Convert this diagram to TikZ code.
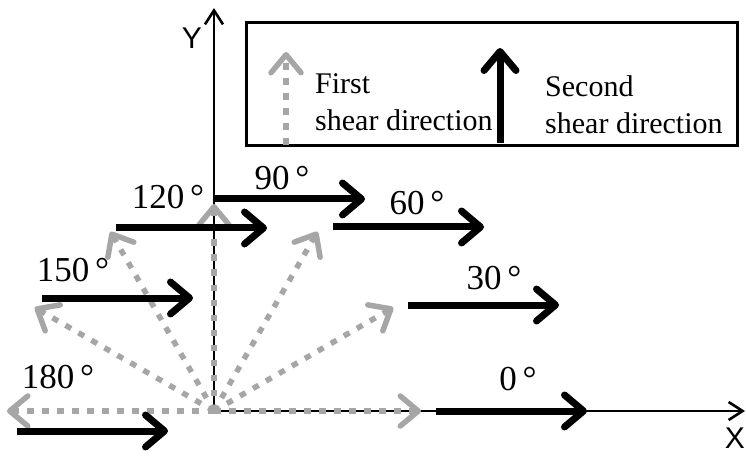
\documentclass[tikz,border=0pt]{standalone}
\usepackage{fontspec}
\setmainfont{Liberation Serif}
\newfontfamily\axisfont{Liberation Sans}
\usetikzlibrary{arrows.meta}
\definecolor{firstgray}{RGB}{166,166,166}

\begin{document}
\begin{tikzpicture}[x=1pt, y=1pt,
  axisline/.style={line width=2.6pt, -{Straight Barb[length=14pt, width=18pt]}},
  firstarrow/.style={firstgray, line width=5.5pt, dash pattern=on 6.5pt off 8.5pt,
    -{Straight Barb[length=18pt, width=30pt, round]}},
  secondarrow/.style={line width=7pt, -{Straight Barb[length=19pt, width=32pt, round]}},
  anglabel/.style={font=\fontsize{35}{40}\selectfont, inner sep=0pt},
  legtext/.style={font=\fontsize{30}{37}\selectfont, align=left, inner sep=0pt},
]
  \useasboundingbox (-214,-44) rectangle (532,411);

  % Axes
  \coordinate (O) at (0,0);
  \coordinate (xend) at (531,0);
  \coordinate (yend) at (0,403);
  \draw[axisline] (O) -- (xend);
  \draw[axisline] (O) -- (yend);
  \node[font=\axisfont\fontsize{30}{36}\selectfont, inner sep=0pt] (ylab) at (-22,373) {Y};
  \node[font=\axisfont\fontsize{30}{36}\selectfont, inner sep=0pt, anchor=east] (xlab) at (531,-27) {X};

  % Legend
  \node[draw, line width=2.6pt, minimum width=491pt, minimum height=123pt,
        inner sep=0pt, anchor=south west] (legbox) at (31,264) {};
  \coordinate (lf0) at (72,266);
  \coordinate (lf1) at (72,359);
  \coordinate (ls0) at (286,268);
  \coordinate (ls1) at (286,363);
  \draw[firstarrow] (lf0) -- (lf1);
  \draw[secondarrow] (ls0) -- (ls1);
  \node[legtext, anchor=north west] (firsttxt) at (101,338) {First\\shear direction};
  \node[legtext, anchor=north west] (secondtxt) at (331,336) {Second\\shear direction};

  % First shear direction (dotted, from origin)
  \foreach \a in {0,30,...,180} {
    \coordinate (f\a) at (\a:207);
    \draw[firstarrow] (O) -- (f\a);
  }

  % Second shear direction (solid, towards +X)
  \foreach \a/\sx/\sy in {0/222/0, 30/194/106, 60/119/184, 90/0/212,
                          120/-98/183, 150/-172/113, 180/-197/-20} {
    \coordinate (s\a) at (\sx,\sy);
    \coordinate (e\a) at (\sx+151,\sy);
    \draw[secondarrow] (s\a) -- (e\a);
  }

  % Angle labels
  \foreach \a/\lx/\ly in {0/304/32, 30/280/133, 60/203/208, 90/68/233,
                          120/-46/214, 150/-141/141, 180/-156/34} {
    \node[anglabel] (lab\a) at (\lx,\ly) {\a\,°};
  }

\end{tikzpicture}
\end{document}
